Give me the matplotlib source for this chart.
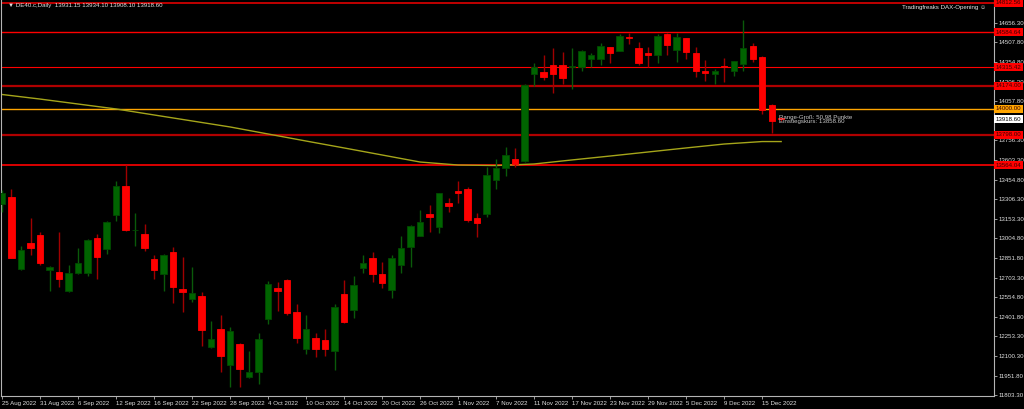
import numpy as np
import matplotlib
matplotlib.use('Agg')
import matplotlib.pyplot as plt

plt.rcParams['font.family'] = ['Liberation Sans', 'DejaVu Sans']

# ---- Daily candles DE40 (25 Aug 2022 .. 19 Dec 2022) ----
opens = [13268, 13324, 12767, 12967, 13030, 12762, 12746, 12603, 12736, 12736,
         13010, 12921, 13184, 13406, 13066, 13038, 12844, 12729, 12900, 12616,
         12539, 12562, 12169, 12309, 12033, 12197, 11939, 11980, 12386, 12626,
         12687, 12442, 12154, 12238, 12225, 12143, 12580, 12455, 12777, 12856,
         12731, 12608, 12800, 12941, 13023, 13189, 13094, 13278, 13368, 13381,
         13163, 13191, 13452, 13542, 13616, 13600, 14265, 14278, 14334, 14334,
         14316, 14316, 14380, 14380, 14470, 14441, 14547, 14467, 14428, 14411,
         14572, 14449, 14539, 14424, 14286, 14263, 14329, 14290, 14342, 14482,
         14395, 14027, 13931.15]
highs = [13375, 13381, 12946, 13158, 13055, 12793, 13055, 12800, 12933, 12997,
         13038, 13138, 13447, 13567, 13197, 13115, 12877, 12882, 12941, 12864,
         12787, 12595, 12373, 12417, 12322, 12202, 12143, 12276, 12677, 12670,
         12693, 12501, 12417, 12281, 12307, 12499, 12685, 12718, 12877, 12902,
         12825, 12877, 13023, 13107, 13222, 13260, 13352, 13312, 13447, 13401,
         13197, 13549, 13615, 13703, 13695, 14188, 14349, 14411, 14464, 14434,
         14464, 14449, 14428, 14500, 14476, 14572, 14582, 14513, 14470, 14572,
         14580, 14582, 14545, 14475, 14372, 14301, 14386, 14365, 14679, 14500,
         14403, 14035, 13934.10]
lows = [13207, 12854, 12762, 12877, 12800, 12603, 12634, 12595, 12731, 12716,
        12690, 12882, 13140, 13063, 12946, 12908, 12690, 12603, 12509, 12440,
        12519, 12179, 12164, 11982, 11862, 11867, 11933, 11887, 12348, 12450,
        12417, 12200, 12118, 12092, 12102, 11995, 12353, 12391, 12736, 12668,
        12626, 12545, 12741, 12783, 13023, 13055, 13048, 13209, 13278, 13132,
        13017, 13166, 13383, 13483, 13554, 13593, 14173, 14219, 14122, 14188,
        14148, 14290, 14316, 14334, 14352, 14441, 14493, 14334, 14321, 14352,
        14411, 14359, 14380, 14240, 14214, 14188, 14206, 14252, 14290, 14359,
        13958, 13810, 13908.10]
closes = [13352, 12856, 12915, 12933, 12815, 12787, 12693, 12741, 12813, 12992,
          12859, 13130, 13406, 13069, 13072, 12933, 12762, 12875, 12634, 12595,
          12588, 12302, 12230, 12102, 12296, 12003, 11977, 12230, 12654, 12601,
          12434, 12243, 12307, 12154, 12158, 12476, 12363, 12649, 12816, 12731,
          12660, 12854, 12928, 13099, 13132, 13166, 13350, 13253, 13350, 13145,
          13125, 13490, 13546, 13644, 13575, 14181, 14316, 14240, 14265, 14232,
          14326, 14441, 14411, 14480, 14428, 14557, 14539, 14352, 14411, 14557,
          14488, 14547, 14436, 14290, 14275, 14290, 14317, 14365, 14462, 14380,
          13989, 13907, 13918.60]

# moving average read at every 4th bar (plus last bar)
ma_bars = [0, 4, 8, 12, 16, 20, 24, 28, 32, 36, 40, 44, 48, 52, 56, 60, 64, 68, 72, 76, 80, 82]
ma_vals = [14108, 14073, 14035, 13997, 13951, 13905, 13859, 13805, 13751, 13698, 13644,
           13590, 13567, 13563, 13575, 13606, 13636, 13667, 13698, 13728, 13747, 13747]

date_ticks = [0, 4, 8, 12, 16, 20, 24, 28, 32, 36, 40, 44, 48, 52, 56, 60, 64, 68, 72, 76, 80]
date_labels = ['25 Aug 2022', '31 Aug 2022', '6 Sep 2022', '12 Sep 2022', '16 Sep 2022',
               '22 Sep 2022', '28 Sep 2022', '4 Oct 2022', '10 Oct 2022', '14 Oct 2022',
               '20 Oct 2022', '26 Oct 2022', '1 Nov 2022', '7 Nov 2022', '11 Nov 2022',
               '17 Nov 2022', '23 Nov 2022', '29 Nov 2022', '5 Dec 2022', '9 Dec 2022',
               '15 Dec 2022']

price_ticks = [14656.30, 14507.80, 14354.80, 14206.30, 14057.80, 13756.30, 13603.30,
               13454.80, 13306.30, 13153.30, 13004.80, 12851.80, 12703.30, 12554.80,
               12401.80, 12253.30, 12100.30, 11951.80, 11803.30]

# horizontal levels
levels = [14812.56, 14584.64, 14315.42, 14174.00, 14000.00, 13798.00, 13564.04]
level_colors = ['#e00000', '#ff0000', '#ff0000', '#b00000', '#ffa500', '#b00000', '#ff0000']
level_widths = [1.2, 1.0, 0.8, 1.6, 1.0, 1.6, 1.2]
label_colors = ['#ff0000', '#ff0000', '#ff0000', '#ff0000', '#ffa500', '#ff0000', '#ff0000']
last_price = 13918.60

# ---- plot ----
fig = plt.figure(figsize=(10.24, 4.09), dpi=100, facecolor='black')
ax = fig.add_axes([1 / 1024, 13 / 409, 993 / 1024, 396 / 409])
ax.set_facecolor('black')

o = np.array(opens); h = np.array(highs); l = np.array(lows); c = np.array(closes)
x = np.arange(len(o))
up = c >= o

for lv, col, lw in zip(levels, level_colors, level_widths):
    ax.axhline(lv, color=col, lw=lw, zorder=1)

ax.plot(ma_bars, ma_vals, color='#a5a51a', lw=1.0, zorder=2)

wick_cols = np.where(up, '#0a5a0a', '#a00000')
ax.vlines(x, l, h, colors=wick_cols, lw=1.0, zorder=3)
body_h = np.maximum(np.abs(c - o), 5)
ax.bar(x, body_h, bottom=np.minimum(o, c), width=0.66,
       color=np.where(up, '#006400', '#ff0000'),
       edgecolor=np.where(up, '#004a00', '#ff0000'), linewidth=0.6, zorder=4)

ax.set_xlim(-0.105, 104.4)
ax.set_ylim(11795.4, 14832.7)

# axes styling
for s in ['left', 'right', 'bottom']:
    ax.spines[s].set_color('#b4b4b4')
    ax.spines[s].set_linewidth(0.8)
ax.spines['top'].set_visible(False)

ax.yaxis.tick_right()
ax.set_yticks(price_ticks)
ax.set_yticklabels([f'{v:.2f}' for v in price_ticks])
ax.tick_params(axis='y', length=2, width=0.6, color='#b4b4b4', labelcolor='#e0e0e0',
               labelsize=4.4, pad=1.5)
ax.set_xticks(date_ticks)
ax.set_xticklabels(date_labels)
ax.tick_params(axis='x', length=2, width=0.6, color='#b4b4b4', labelcolor='#e0e0e0',
               labelsize=4.4, pad=1.5)
for lbl in ax.get_xticklabels():
    lbl.set_ha('left')

# price boxes on the right scale
tr = ax.get_yaxis_transform()
for lv, col in zip(levels, label_colors):
    ax.text(1.002, lv, f'{lv:.2f}', transform=tr, ha='left', va='center', fontsize=4.4,
            color='#3a0000', zorder=6,
            bbox=dict(boxstyle='square,pad=0.25', fc=col, ec='none'))
ax.text(1.002, last_price, f'{last_price:.2f}', transform=tr, ha='left', va='center',
        fontsize=4.4, color='black', zorder=6,
        bbox=dict(boxstyle='square,pad=0.25', fc='white', ec='none'))

# overlapping info texts near last candle
ax.text(81.8, 13932, 'Range-Groß: 50.98 Punkte', color='#c8c8c8', fontsize=4.4,
        va='center', ha='left', zorder=7)
ax.text(81.8, 13900, 'Einstiegskurs: 13858.60', color='#c8c8c8', fontsize=4.4,
        va='center', ha='left', zorder=7)

fig.text(8 / 1024, 1 - 6 / 409, '▼ DE40.c,Daily  13931.15 13934.10 13908.10 13918.60',
         color='#e0e0e0', fontsize=4.4, va='center', ha='left')
fig.text(986 / 1024, 1 - 7 / 409, 'Tradingfreaks DAX-Opening ☺',
         color='#e8e8e8', fontsize=4.4, va='center', ha='right')

fig.savefig('out.png', dpi=100, facecolor='black')
